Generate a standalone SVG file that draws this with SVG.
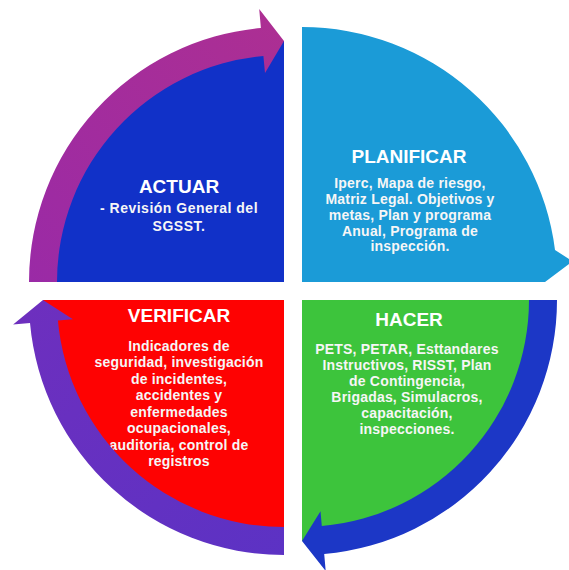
<svg xmlns="http://www.w3.org/2000/svg" width="569" height="570" viewBox="0 0 569 570">
  <defs>
    <style>
      .title { font-family: "Liberation Sans", Arial, sans-serif; font-weight: bold; font-size: 19px; fill: #ffffff; text-anchor: middle; }
      .body { font-family: "Liberation Sans", Arial, sans-serif; font-weight: bold; font-size: 14px; fill: #f6f6f6; text-anchor: middle; letter-spacing: 0.2px; }
    </style>
    <linearGradient id="gPurple" x1="0" y1="1" x2="1" y2="0">
      <stop offset="0" stop-color="#9a2aa6"/>
      <stop offset="1" stop-color="#ad2f92"/>
    </linearGradient>
    <linearGradient id="gViolet" x1="1" y1="1" x2="0" y2="0">
      <stop offset="0" stop-color="#5c32c4"/>
      <stop offset="1" stop-color="#6e2fbe"/>
    </linearGradient>
  </defs>
  <rect width="569" height="570" fill="#ffffff"/>

  <g id="actuar">
    <path d="M284,282 L43,282 A241 241 0 0 1 284,41 Z" fill="#1131c8"/>
    <text class="title" x="179" y="193">ACTUAR</text>
    <text class="body" x="179" y="213" style="letter-spacing:0.5px">- Revisión General del</text>
    <text class="body" x="179" y="231" style="letter-spacing:0.5px">SGSST.</text>
  </g>

  <g id="planificar">
    <path d="M302,282 L302,27 A255 255 0 0 1 555,250 L569,259 L569,264 L545,282 Z" fill="#1b9bd7"/>
    <text class="title" x="409" y="163">PLANIFICAR</text>
    <text class="body" x="410" y="188">Iperc, Mapa de riesgo,</text>
    <text class="body" x="410" y="204">Matriz Legal. Objetivos y</text>
    <text class="body" x="410" y="220">metas, Plan y programa</text>
    <text class="body" x="410" y="236">Anual, Programa de</text>
    <text class="body" x="410" y="251">inspección.</text>
  </g>

  <g id="hacer">
    <path d="M302,300 L543,300 A241 241 0 0 1 302,541 Z" fill="#3dc43c"/>
    <text class="title" x="409" y="326">HACER</text>
    <text class="body" x="407" y="354">PETS, PETAR, Esttandares</text>
    <text class="body" x="407" y="370">Instructivos, RISST, Plan</text>
    <text class="body" x="407" y="386">de Contingencia,</text>
    <text class="body" x="407" y="402">Brigadas, Simulacros,</text>
    <text class="body" x="407" y="418">capacitación,</text>
    <text class="body" x="407" y="434">inspecciones.</text>
  </g>

  <g id="verificar">
    <path d="M284,300 L284,541 A241 241 0 0 1 43,300 Z" fill="#fe0202"/>
    <text class="title" x="179" y="322">VERIFICAR</text>
    <text class="body" x="179" y="351">Indicadores de</text>
    <text class="body" x="179" y="367">seguridad, investigación</text>
    <text class="body" x="179" y="384">de incidentes,</text>
    <text class="body" x="179" y="400">accidentes y</text>
    <text class="body" x="179" y="417">enfermedades</text>
    <text class="body" x="179" y="433">ocupacionales,</text>
    <text class="body" x="179" y="450">auditoria, control de</text>
    <text class="body" x="179" y="466">registros</text>
  </g>

  <g id="connectors">
    <path id="arrow-actuar-planificar" d="M29,282 A255 255 0 0 1 260.9,28 L259.2,9.1 L284,41 L265,72.9 L263.4,55.9 A227 227 0 0 0 57,282 Z" fill="url(#gPurple)"/>
    <path id="arrow-planificar-hacer" d="M557,300 A255 255 0 0 1 324.2,554 L325.7,571 L302,541 L320.5,511.2 L321.8,526.1 A227 227 0 0 0 529,300 Z" fill="#1c37c6"/>
    <path id="arrow-hacer-verificar" d="M284,555 A255 255 0 0 1 30,323.1 L13.1,324.6 L43,300 L72.9,319.2 L57.9,320.6 A227 227 0 0 0 284,527 Z" fill="url(#gViolet)"/>
  </g>
</svg>
